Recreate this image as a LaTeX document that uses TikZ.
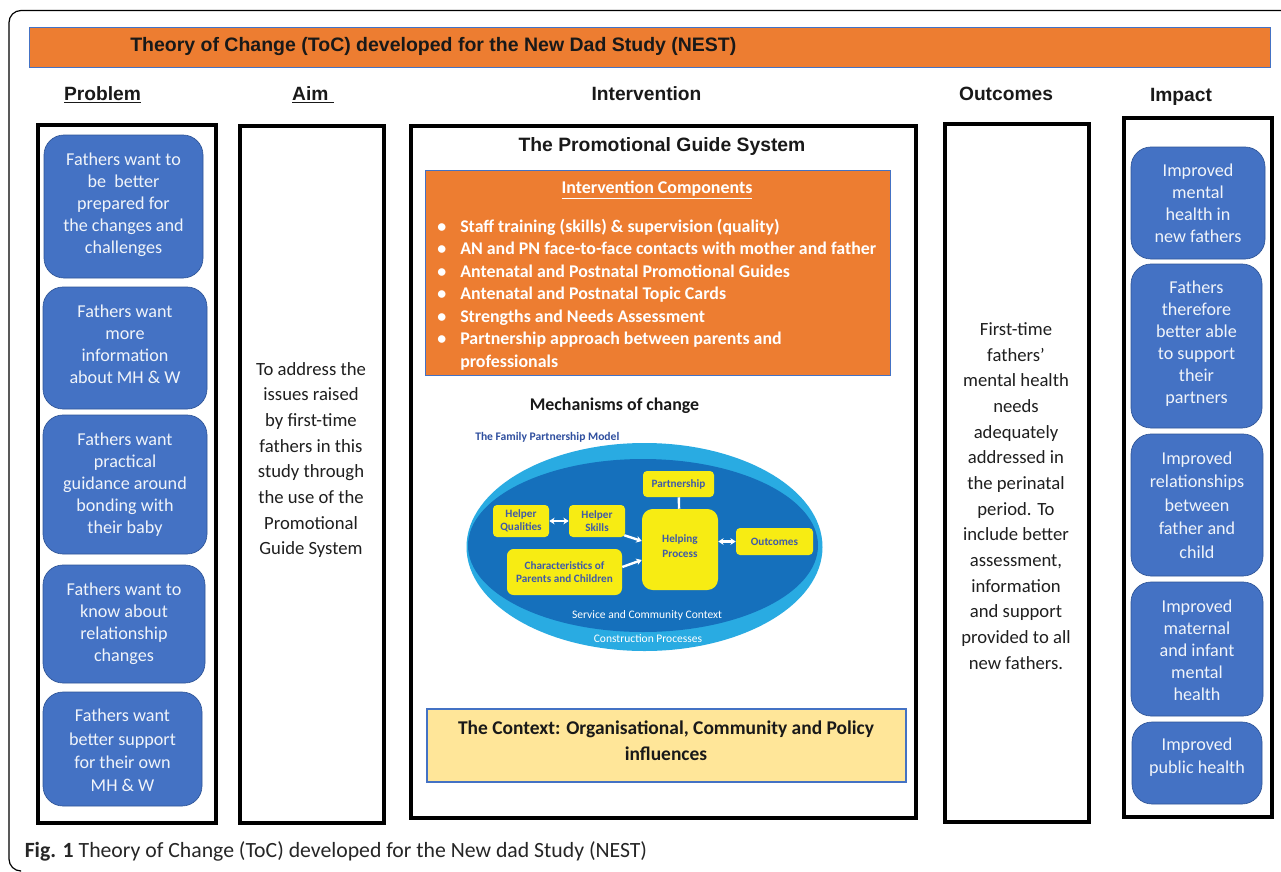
\documentclass[tikz,border=0pt]{standalone}
\usepackage{fontspec}
\setmainfont{Carlito}
\newfontfamily\arialf{Liberation Sans}
\usetikzlibrary{arrows.meta}
\definecolor{frameblue}{HTML}{4472C4}
\definecolor{frameedge}{HTML}{2F5597}
\definecolor{orangeb}{HTML}{ED7D31}
\definecolor{paleY}{HTML}{FFE699}
\definecolor{ellO}{HTML}{29ABE2}
\definecolor{ellI}{HTML}{1570BC}
\definecolor{yel}{HTML}{F7EC13}
\definecolor{yeltext}{HTML}{3F5AA8}
\definecolor{navy}{HTML}{2F4F9F}
\newcommand{\fs}[2]{\fontsize{#1}{#2}\selectfont}
\newcommand{\bx}[7]{%
  \pgfmathsetmacro\bw{(#4-#2)*0.75}%
  \pgfmathsetmacro\bh{(#5-#3)*0.75}%
  \node[#6,minimum width=\bw pt,minimum height=\bh pt] (#1) at ({(#2+#4)/2},{(#3+#5)/2}) {#7};}
\tikzset{
  colbox/.style={draw=black,line width=3pt,fill=white,inner sep=0pt},
  coltext/.style={inner sep=0pt,align=center,text=black!88,font=\fs{14}{19.25}},
  bluebox/.style={draw=frameedge,line width=.5pt,fill=frameblue,rounded corners=15pt,text=white!92!frameblue,inner sep=0pt,align=center,font=\fs{13.6}{16.5}},
  bluetext/.style={text=white!92!frameblue,inner sep=0pt,align=center,font=\fs{13.6}{16.5}},
  ybox/.style={fill=yel,text=yeltext,inner sep=0pt,align=center,rounded corners=3pt,font=\bfseries\fs{8.4}{10}},
  head/.style={font=\arialf\bfseries\fs{14.4}{17},text=black!90,inner sep=0pt},
  wline/.style={draw=white,line width=1.8pt},
  warrow/.style={draw=white,line width=1.8pt,-{Stealth[length=4pt,width=5pt]}},
  wdouble/.style={draw=white,line width=1.8pt,{Stealth[length=4pt,width=5pt]}-{Stealth[length=4pt,width=5pt]}},
}
\begin{document}
\begin{tikzpicture}[x=0.75pt,y=-0.75pt]
\useasboundingbox (0,0) rectangle (1281,871);
\fill[white] (0,0) rectangle (1281,871);
% outer frame
\draw[black,line width=.9pt,rounded corners=9pt] (1290,10.5) -- (9,10.5) -- (9,871) -- (20,871);
% title bar
\bx{title}{29}{27}{1270}{67}{draw=frameblue,line width=.6pt,fill=orangeb}{}
\node[anchor=west,font=\arialf\bfseries\fs{14.62}{17},text=black!90,inner sep=0pt] (titletext) at (130,46.5) {Theory of Change (ToC) developed for the New Dad Study (NEST)};
% headings
\node[head] (hp) at (102.5,95) {\underline{Problem}};
\node[head] (ha) at (313,95) {\underline{Aim\ }};
\node[head] (hi) at (646.5,94) {Intervention};
\node[head] (ho) at (1006,94) {Outcomes};
\node[head] (him) at (1181,96.5) {Impact};
% columns
\bx{cprob}{38}{125}{216}{823}{colbox}{}
\bx{caim}{240}{126}{384}{823}{colbox}{}
\bx{cint}{411}{126}{916}{818}{colbox}{}
\bx{cout}{945}{124}{1089}{822}{colbox}{}
\bx{cimp}{1124}{118}{1272}{817}{colbox}{}
\node[coltext] (aimtext) at (311,460) {To address the\\issues raised\\by first-time\\fathers in this\\study through\\the use of the\\Promotional\\Guide System};
\node[coltext] (outtext) at (1016,496) {First-time\\fathers’\\mental health\\needs\\adequately\\addressed in\\the perinatal\\period. To\\include better\\assessment,\\information\\and support\\provided to all\\new fathers.};
% problem boxes
\bx{p1}{44}{135}{203}{278}{bluebox}{}
\node[bluetext] (p1t) at (123.5,205) {Fathers want to\\be\ \ better\\prepared for\\the changes and\\challenges};
\bx{p2}{43}{287}{207}{409}{bluebox}{}
\node[bluetext] (p2t) at (125,344) {Fathers want\\more\\information\\about MH \& W};
\bx{p3}{43}{415}{207}{554}{bluebox}{Fathers want\\practical\\guidance around\\bonding with\\their baby}
\bx{p4}{43}{565}{205}{683}{bluebox}{Fathers want to\\know about\\relationship\\changes}
\bx{p5}{43}{692}{202}{806}{bluebox}{}
\node[bluetext,font=\fs{13.6}{17.4}] (p5t) at (122.5,750.5) {Fathers want\\better support\\for their own\\MH \& W};
% impact boxes
\bx{i1}{1131}{147}{1265}{259}{bluebox}{Improved\\mental\\health in\\new fathers}
\bx{i2}{1131}{264}{1262}{428}{bluebox}{}
\node[bluetext] (i2t) at (1196.5,344) {Fathers\\therefore\\better able\\to support\\their\\partners};
\bx{i3}{1131}{434}{1263}{576}{bluebox}{}
\node[bluetext,font=\fs{13.6}{17.6}] (i3t) at (1197,505) {Improved\\relationships\\between\\father and\\child};
\bx{i4}{1131}{582}{1263}{716}{bluebox}{}
\node[bluetext] (i4t) at (1197,650) {Improved\\maternal\\and infant\\mental\\health};
\bx{i5}{1132}{722}{1262}{804}{bluebox}{}
\node[bluetext,font=\fs{13.6}{17.2}] (i5t) at (1197,757) {Improved\\public health};
% intervention
\node[font=\arialf\bfseries\fs{14.5}{17},text=black!90,inner sep=0pt] (guide) at (662,146) {The Promotional Guide System};
\bx{comp}{425}{170}{890}{375}{draw=frameblue,line width=.6pt,fill=orangeb}{}
\node[font=\bfseries\fs{13.45}{15},text=white,inner sep=0pt] (comptitle) at (657,190) {\underline{Intervention Components}};
\node[anchor=north west,align=left,inner sep=0pt,text=white,font=\bfseries\fs{13.4}{16.9}] (complist) at (460,218.5) {%
\llap{•\hspace{10.5pt}}Staff training (skills) \& supervision (quality)\\
\llap{•\hspace{10.5pt}}AN and PN face-to-face contacts with mother and father\\
\llap{•\hspace{10.5pt}}Antenatal and Postnatal Promotional Guides\\
\llap{•\hspace{10.5pt}}Antenatal and Postnatal Topic Cards\\
\llap{•\hspace{10.5pt}}Strengths and Needs Assessment\\
\llap{•\hspace{10.5pt}}Partnership approach between parents and\\
professionals};
\node[font=\bfseries\fs{13.4}{15},text=black!90,inner sep=0pt] (mech) at (614.5,405.5) {Mechanisms of change};
\node[anchor=west,font=\bfseries\fs{8.7}{9},text=navy,inner sep=0pt] (fpm) at (475,437) {The Family Partnership Model};
% ellipses
\fill[ellO] (644.5,547) ellipse[x radius=178,y radius=104];
\fill[ellI] (643,545.5) ellipse[x radius=175,y radius=86.5];
\node[font=\fs{8.65}{9},text=white,inner sep=0pt] (ctx) at (647,615) {Service and Community Context};
\node[font=\fs{8.65}{9},text=white,inner sep=0pt] (cons) at (648,638.5) {Construction Processes};
% model
\bx{mpart}{643}{471}{714}{497}{ybox}{Partnership}
\bx{mhq}{493}{505}{549}{537}{ybox}{Helper\\Qualities}
\bx{mhs}{569}{505}{625}{537}{ybox}{Helper\\Skills}
\bx{mhp}{642}{509}{718}{590}{ybox,rounded corners=8pt}{}
\node[text=yeltext,inner sep=0pt,align=center,font=\bfseries\fs{8.4}{11.6}] (mhpt) at (680,546) {Helping\\Process};
\bx{mout}{736}{528}{813}{555}{ybox}{Outcomes}
\bx{mchar}{507}{549}{622}{595}{ybox,rounded corners=5pt}{Characteristics of\\Parents and Children}
\draw[wline] (mpart) -- (mhp);
\draw[wdouble] (mhq) -- (mhs);
\draw[wdouble] (mhp.east |- mout.west) -- (mout.west);
\draw[warrow] (mhs.south east) ++(-1,-2) -- (mhp.west |- 0,541);
\draw[warrow] (mchar.east |- 0,567) -- (mhp.west |- 0,560);
% context
\bx{context}{427}{709}{906}{782}{draw=frameblue,line width=.8pt,fill=paleY}{}
\node[align=center,inner sep=0pt,font=\bfseries\fs{14.6}{19.4},text=black!90] (contextt) at (666,741) {The Context: Organisational, Community and Policy\\influences};
% caption
\node[anchor=west,inner sep=0pt,text=black!85,font=\fs{16.3}{18}] (cap) at (24.5,851.5) {\textbf{Fig. 1} Theory of Change (ToC) developed for the New dad Study (NEST)};
\end{tikzpicture}
\end{document}
